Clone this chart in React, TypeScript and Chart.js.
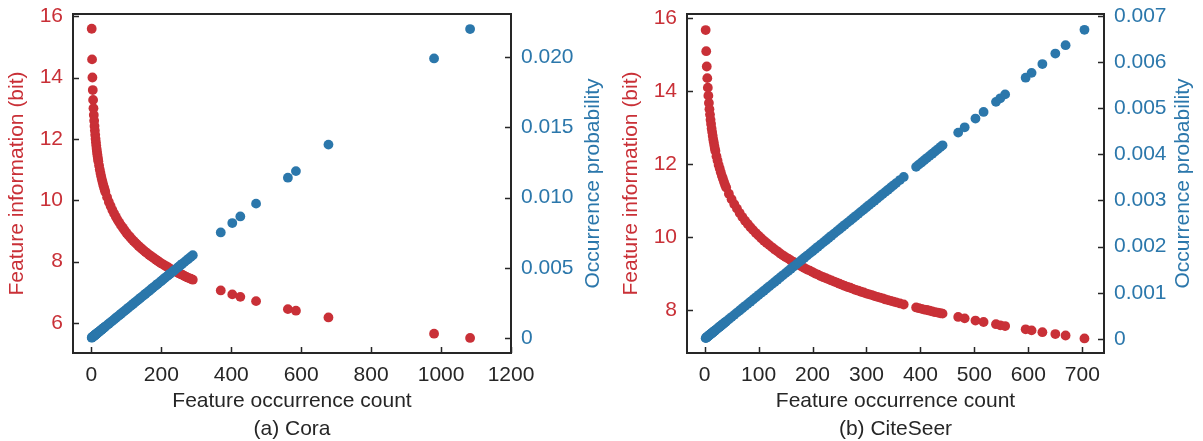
import React, { useEffect, useRef } from 'react';
import { Chart, registerables } from 'chart.js';

Chart.register(...registerables);

const RED = '#C93037';
const BLUE = '#2B77AB';
const DARK = '#262626';
const FONT = "'Liberation Sans', Arial, Helvetica, sans-serif";

// ---------- (a) Cora ----------
const coraCounts = [1, 2, 3, 4, 5, 6, 7, 8, 9, 10, 11, 12, 13, 14, 15, 16, 17, 18, 19, 20, 22, 24, 26, 28, 30, 32, 34, 36, 38, 40, 45, 50, 55, 60, 65, 70, 75, 80, 85, 90, 95, 100, 105, 110, 115, 120, 125, 130, 135, 140, 145, 150, 155, 160, 165, 170, 175, 180, 185, 190, 195, 200, 205, 210, 215, 220, 225, 230, 235, 240, 245, 250, 255, 260, 266, 272, 277, 284, 290, 370, 403, 426, 471, 562, 585, 678, 980, 1083];
const coraInfo = [15.59, 14.59, 14.0, 13.59, 13.27, 13.0, 12.78, 12.59, 12.42, 12.27, 12.13, 12.0, 11.89, 11.78, 11.68, 11.59, 11.5, 11.42, 11.34, 11.27, 11.13, 11.0, 10.89, 10.78, 10.68, 10.59, 10.5, 10.42, 10.34, 10.27, 10.1, 9.94, 9.81, 9.68, 9.57, 9.46, 9.36, 9.27, 9.18, 9.1, 9.02, 8.94, 8.87, 8.81, 8.74, 8.68, 8.62, 8.57, 8.51, 8.46, 8.41, 8.36, 8.31, 8.27, 8.22, 8.18, 8.14, 8.1, 8.06, 8.02, 7.98, 7.94, 7.91, 7.87, 7.84, 7.81, 7.77, 7.74, 7.71, 7.68, 7.65, 7.62, 7.59, 7.57, 7.53, 7.5, 7.47, 7.44, 7.41, 7.06, 6.93, 6.85, 6.71, 6.45, 6.4, 6.18, 5.65, 5.51];
const coraProb = [0.0000203, 0.0000406, 0.000061, 0.0000813, 0.0001016, 0.0001219, 0.0001422, 0.0001626, 0.0001829, 0.0002032, 0.0002235, 0.0002438, 0.0002641, 0.0002845, 0.0003048, 0.0003251, 0.0003454, 0.0003657, 0.0003861, 0.0004064, 0.000447, 0.0004877, 0.0005283, 0.0005689, 0.0006096, 0.0006502, 0.0006908, 0.0007315, 0.0007721, 0.0008128, 0.0009144, 0.001016, 0.0011175, 0.0012191, 0.0013207, 0.0014223, 0.0015239, 0.0016255, 0.0017271, 0.0018287, 0.0019303, 0.0020319, 0.0021335, 0.0022351, 0.0023367, 0.0024383, 0.0025399, 0.0026415, 0.0027431, 0.0028447, 0.0029463, 0.0030479, 0.0031494, 0.003251, 0.0033526, 0.0034542, 0.0035558, 0.0036574, 0.003759, 0.0038606, 0.0039622, 0.0040638, 0.0041654, 0.004267, 0.0043686, 0.0044702, 0.0045718, 0.0046734, 0.004775, 0.0048766, 0.0049782, 0.0050798, 0.0051813, 0.0052829, 0.0054049, 0.0055268, 0.0056284, 0.0057706, 0.0058925, 0.007518, 0.0081886, 0.0086559, 0.0095702, 0.0114193, 0.0118866, 0.0137763, 0.0199126, 0.0220055];
const coraXTicks = [0, 200, 400, 600, 800, 1000, 1200];
const coraInfoTicks = [6, 8, 10, 12, 14, 16];
const coraProbTicks = [0, 0.005, 0.01, 0.015, 0.02];
const coraProbLabels = ['0', '0.005', '0.010', '0.015', '0.020'];

// ---------- (b) CiteSeer ----------
const citeCounts = [2, 3, 4, 5, 6, 7, 8, 9, 10, 11, 12, 13, 14, 15, 16, 17, 18, 19, 20, 22, 24, 26, 28, 30, 32, 34, 36, 38, 40, 45, 50, 55, 60, 65, 70, 75, 80, 85, 90, 95, 100, 105, 110, 115, 120, 125, 130, 135, 140, 145, 150, 155, 160, 165, 170, 175, 180, 185, 190, 195, 200, 205, 210, 215, 220, 225, 230, 235, 240, 245, 250, 255, 260, 265, 270, 275, 280, 285, 290, 295, 300, 305, 310, 315, 320, 325, 330, 335, 340, 345, 350, 355, 362, 369, 392, 397, 402, 407, 412, 417, 422, 427, 432, 437, 441, 470, 482, 502, 517, 540, 548, 557, 595, 606, 626, 650, 669, 704];
const citeInfo = [15.68, 15.1, 14.68, 14.36, 14.1, 13.88, 13.68, 13.51, 13.36, 13.22, 13.1, 12.98, 12.88, 12.78, 12.68, 12.6, 12.51, 12.43, 12.36, 12.22, 12.1, 11.98, 11.88, 11.78, 11.68, 11.6, 11.51, 11.43, 11.36, 11.19, 11.04, 10.9, 10.78, 10.66, 10.55, 10.45, 10.36, 10.27, 10.19, 10.11, 10.04, 9.97, 9.9, 9.84, 9.78, 9.72, 9.66, 9.61, 9.55, 9.5, 9.45, 9.41, 9.36, 9.32, 9.27, 9.23, 9.19, 9.15, 9.11, 9.08, 9.04, 9.0, 8.97, 8.93, 8.9, 8.87, 8.84, 8.81, 8.78, 8.75, 8.72, 8.69, 8.66, 8.63, 8.61, 8.58, 8.55, 8.53, 8.5, 8.48, 8.45, 8.43, 8.41, 8.38, 8.36, 8.34, 8.32, 8.29, 8.27, 8.25, 8.23, 8.21, 8.18, 8.15, 8.07, 8.05, 8.03, 8.01, 8.0, 7.98, 7.96, 7.94, 7.93, 7.91, 7.9, 7.81, 7.77, 7.71, 7.67, 7.61, 7.58, 7.56, 7.47, 7.44, 7.39, 7.34, 7.3, 7.22];
const citeProb = [0.000019, 0.0000285, 0.000038, 0.0000475, 0.0000571, 0.0000666, 0.0000761, 0.0000856, 0.0000951, 0.0001046, 0.0001141, 0.0001236, 0.0001331, 0.0001426, 0.0001521, 0.0001617, 0.0001712, 0.0001807, 0.0001902, 0.0002092, 0.0002282, 0.0002472, 0.0002662, 0.0002853, 0.0003043, 0.0003233, 0.0003423, 0.0003613, 0.0003804, 0.0004279, 0.0004754, 0.000523, 0.0005705, 0.0006181, 0.0006656, 0.0007132, 0.0007607, 0.0008083, 0.0008558, 0.0009033, 0.0009509, 0.0009984, 0.001046, 0.0010935, 0.0011411, 0.0011886, 0.0012362, 0.0012837, 0.0013312, 0.0013788, 0.0014263, 0.0014739, 0.0015214, 0.001569, 0.0016165, 0.0016641, 0.0017116, 0.0017591, 0.0018067, 0.0018542, 0.0019018, 0.0019493, 0.0019969, 0.0020444, 0.002092, 0.0021395, 0.002187, 0.0022346, 0.0022821, 0.0023297, 0.0023772, 0.0024248, 0.0024723, 0.0025199, 0.0025674, 0.0026149, 0.0026625, 0.00271, 0.0027576, 0.0028051, 0.0028527, 0.0029002, 0.0029478, 0.0029953, 0.0030428, 0.0030904, 0.0031379, 0.0031855, 0.003233, 0.0032806, 0.0033281, 0.0033757, 0.0034422, 0.0035088, 0.0037275, 0.003775, 0.0038226, 0.0038701, 0.0039177, 0.0039652, 0.0040128, 0.0040603, 0.0041078, 0.0041554, 0.0041934, 0.0044692, 0.0045833, 0.0047735, 0.0049161, 0.0051348, 0.0052109, 0.0052965, 0.0056578, 0.0057624, 0.0059526, 0.0061808, 0.0063615, 0.0066943];
const citeXTicks = [0, 100, 200, 300, 400, 500, 600, 700];
const citeInfoTicks = [8, 10, 12, 14, 16];
const citeProbTicks = [0, 0.001, 0.002, 0.003, 0.004, 0.005, 0.006, 0.007];
const citeProbLabels = ['0', '0.001', '0.002', '0.003', '0.004', '0.005', '0.006', '0.007'];

const framePlugin = {
  id: 'frame',
  afterDraw(chart: any, _args: any, opts: any) {
    const { ctx, chartArea: a, scales } = chart;
    ctx.save();
    ctx.strokeStyle = DARK;
    ctx.lineWidth = 1.5;
    const TL = 6;
    ctx.beginPath();
    scales.x.ticks.forEach((t: any) => {
      const px = Math.round(scales.x.getPixelForValue(t.value)) + 0.5;
      ctx.moveTo(px, a.bottom);
      ctx.lineTo(px, a.bottom - TL);
    });
    scales.yL.ticks.forEach((t: any) => {
      const py = Math.round(scales.yL.getPixelForValue(t.value)) + 0.5;
      ctx.moveTo(a.left, py);
      ctx.lineTo(a.left + TL, py);
    });
    scales.yR.ticks.forEach((t: any) => {
      const py = Math.round(scales.yR.getPixelForValue(t.value)) + 0.5;
      ctx.moveTo(a.right, py);
      ctx.lineTo(a.right - TL, py);
    });
    ctx.stroke();
    ctx.lineWidth = 2;
    ctx.strokeRect(a.left, a.top, a.right - a.left, a.bottom - a.top);
    ctx.translate(opts.titleX, (a.top + a.bottom) / 2);
    ctx.rotate(-Math.PI / 2);
    ctx.fillStyle = BLUE;
    ctx.font = `21px ${FONT}`;
    ctx.textAlign = 'center';
    ctx.textBaseline = 'middle';
    ctx.fillText('Occurrence probability', 0, 0);
    ctx.restore();
  },
};

type PanelProps = {
  counts: number[];
  info: number[];
  prob: number[];
  xTicks: number[];
  infoTicks: number[];
  probTicks: number[];
  probLabels: string[];
  xRange: [number, number];
  infoRange: [number, number];
  probRange: [number, number];
  caption: string;
  left: number;
  width: number;
  leftAxisW: number;
  rightAxisW: number;
  leftTitlePad: number;
  rightTitleX: number;
};

function zeroPad(s: any) {
  s.paddingTop = 0;
  s.paddingBottom = 0;
  s.paddingLeft = 0;
  s.paddingRight = 0;
}

function Panel(p: PanelProps) {
  const ref = useRef<HTMLCanvasElement | null>(null);
  useEffect(() => {
    if (!ref.current) return;
    const tickFont = { family: FONT, size: 21 };
    const chart = new Chart(ref.current, {
      type: 'scatter',
      data: {
        datasets: [
          {
            label: 'Occurrence probability',
            data: p.counts.map((c, i) => ({ x: c, y: p.prob[i] })),
            yAxisID: 'yR',
            backgroundColor: BLUE,
            borderWidth: 0,
            pointRadius: 4.9,
          },
          {
            label: 'Feature information (bit)',
            data: p.counts.map((c, i) => ({ x: c, y: p.info[i] })),
            yAxisID: 'yL',
            backgroundColor: RED,
            borderWidth: 0,
            pointRadius: 4.9,
          },
        ],
      },
      options: {
        responsive: false,
        animation: false,
        events: [],
        layout: { padding: { top: 14, left: 0, right: 0, bottom: 0 } },
        plugins: {
          legend: { display: false },
          tooltip: { enabled: false },
          frame: { titleX: p.rightTitleX },
        } as any,
        scales: {
          x: {
            type: 'linear',
            position: 'bottom',
            min: p.xRange[0],
            max: p.xRange[1],
            bounds: 'data',
            afterBuildTicks: (s: any) => {
              s.ticks = p.xTicks.map((v) => ({ value: v }));
            },
            afterFit: (s: any) => {
              s.height = 88;
              zeroPad(s);
            },
            grid: { display: false, drawTicks: false },
            border: { display: false },
            ticks: { padding: 10, color: DARK, font: tickFont, callback: (v: any) => String(v), maxRotation: 0 },
            title: {
              display: true,
              text: ['Feature occurrence count', p.caption],
              color: DARK,
              font: { family: FONT, size: 21, lineHeight: '28px' },
              padding: { top: 0, bottom: -2 },
            },
          },
          yL: {
            type: 'linear',
            position: 'left',
            min: p.infoRange[0],
            max: p.infoRange[1],
            bounds: 'data',
            afterBuildTicks: (s: any) => {
              s.ticks = p.infoTicks.map((v) => ({ value: v }));
            },
            afterFit: (s: any) => {
              s.width = p.leftAxisW;
              zeroPad(s);
            },
            grid: { display: false, drawTicks: false },
            border: { display: false },
            ticks: { padding: 10, color: RED, font: tickFont, callback: (v: any) => String(v) },
            title: {
              display: true,
              text: 'Feature information (bit)',
              color: RED,
              font: { family: FONT, size: 21 },
              padding: { top: p.leftTitlePad, bottom: 0 },
            },
          },
          yR: {
            type: 'linear',
            position: 'right',
            min: p.probRange[0],
            max: p.probRange[1],
            bounds: 'data',
            afterBuildTicks: (s: any) => {
              s.ticks = p.probTicks.map((v) => ({ value: v }));
            },
            afterFit: (s: any) => {
              s.width = p.rightAxisW;
              zeroPad(s);
            },
            grid: { display: false, drawTicks: false },
            border: { display: false },
            ticks: {
              padding: 10,
              color: BLUE,
              font: tickFont,
              callback: (v: any) => {
                const k = p.probTicks.indexOf(v);
                return k >= 0 ? p.probLabels[k] : '';
              },
            },
          },
        },
      } as any,
      plugins: [framePlugin as any],
    });
    return () => chart.destroy();
  }, []);
  return (
    <canvas
      ref={ref}
      width={p.width}
      height={441}
      style={{ position: 'absolute', left: p.left, top: 0, width: p.width, height: 441 }}
    />
  );
}

export default function App() {
  return (
    <div style={{ position: 'absolute', left: 0, top: 0, width: 1203, height: 441, background: '#fff', overflow: 'hidden' }}>
      <Panel
        counts={coraCounts}
        info={coraInfo}
        prob={coraProb}
        xTicks={coraXTicks}
        infoTicks={coraInfoTicks}
        probTicks={coraProbTicks}
        probLabels={coraProbLabels}
        xRange={[-52.5, 1200]}
        infoRange={[5.02, 16.07]}
        probRange={[-0.00107, 0.02308]}
        caption="(a) Cora"
        left={0}
        width={620}
        leftAxisW={73}
        rightAxisW={109}
        leftTitlePad={4.4}
        rightTitleX={593}
      />
      <Panel
        counts={citeCounts}
        info={citeInfo}
        prob={citeProb}
        xTicks={citeXTicks}
        infoTicks={citeInfoTicks}
        probTicks={citeProbTicks}
        probLabels={citeProbLabels}
        xRange={[-32.6, 740.2]}
        infoRange={[6.82, 16.12]}
        probRange={[-0.000303, 0.007037]}
        caption="(b) CiteSeer"
        left={603}
        width={600}
        leftAxisW={84}
        rightAxisW={99}
        leftTitlePad={15.4}
        rightTitleX={580}
      />
    </div>
  );
}
